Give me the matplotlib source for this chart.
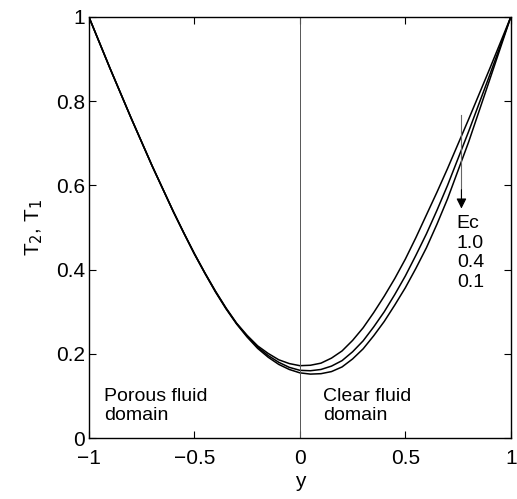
import matplotlib.pyplot as plt

plt.rcParams['font.family'] = ['Liberation Sans', 'DejaVu Sans']

y_left = [-1.0, -0.9, -0.8, -0.7, -0.6, -0.55, -0.5, -0.45, -0.4, -0.35, -0.3,
          -0.25, -0.2, -0.15, -0.1, -0.05, 0.0]
y_right = [0.0, 0.05, 0.1, 0.15, 0.2, 0.25, 0.3, 0.35, 0.4, 0.45, 0.5, 0.55,
           0.6, 0.65, 0.7, 0.8, 0.9, 1.0]

# temperature T2 (porous, y<0) and T1 (clear, y>0) for each Ec
ec_labels = ['1.0', '0.4', '0.1']
T_left = {
    '0.1': [1.000, 0.878, 0.760, 0.646, 0.538, 0.487, 0.438, 0.392, 0.349, 0.309,
            0.273, 0.244, 0.219, 0.201, 0.186, 0.177, 0.172],
    '0.4': [1.000, 0.878, 0.760, 0.646, 0.538, 0.487, 0.438, 0.392, 0.348, 0.308,
            0.272, 0.242, 0.216, 0.196, 0.180, 0.168, 0.161],
    '1.0': [1.000, 0.878, 0.760, 0.646, 0.538, 0.487, 0.437, 0.391, 0.347, 0.307,
            0.271, 0.240, 0.213, 0.192, 0.175, 0.163, 0.155],
}
T_right = {
    '0.1': [0.172, 0.173, 0.178, 0.190, 0.207, 0.232, 0.262, 0.298, 0.337, 0.379,
            0.425, 0.476, 0.530, 0.584, 0.640, 0.757, 0.877, 1.000],
    '0.4': [0.161, 0.160, 0.163, 0.171, 0.184, 0.205, 0.231, 0.264, 0.300, 0.341,
            0.385, 0.434, 0.485, 0.541, 0.600, 0.728, 0.862, 1.000],
    '1.0': [0.155, 0.152, 0.153, 0.158, 0.169, 0.188, 0.212, 0.243, 0.277, 0.316,
            0.357, 0.403, 0.452, 0.508, 0.568, 0.703, 0.851, 1.000],
}

fig = plt.figure(figsize=(5.17, 4.99), dpi=100)
ax = fig.add_axes([0.172, 0.122, 0.816, 0.844])

for ec in ec_labels:
    ax.plot(y_left + y_right[1:], T_left[ec] + T_right[ec][1:], color='black', lw=1.1)

# interface between porous and clear domains
ax.axvline(0, color='#555555', lw=0.7)

# Ec arrow: grey shaft, black head
ax.plot([0.766, 0.766], [0.768, 0.56], color='#666666', lw=0.8)
ax.annotate('', xy=(0.766, 0.545), xytext=(0.766, 0.59),
            arrowprops=dict(arrowstyle='-|>', color='black', lw=0.8,
                            mutation_scale=15, shrinkA=0, shrinkB=0))
ax.text(0.744, 0.53, 'Ec\n' + '\n'.join(ec_labels), fontsize=14,
        va='top', ha='left', linespacing=1.2)

ax.text(-0.93, 0.12, 'Porous fluid\ndomain', fontsize=14, va='top', ha='left', linespacing=1.15)
ax.text(0.108, 0.12, 'Clear fluid\ndomain', fontsize=14, va='top', ha='left', linespacing=1.15)

ax.set_xlim(-1, 1)
ax.set_ylim(0, 1)
ax.set_xticks([-1, -0.5, 0, 0.5, 1])
ax.set_xticklabels(['\u22121', '\u22120.5', '0', '0.5', '1'])
ax.set_yticks([0, 0.2, 0.4, 0.6, 0.8, 1])
ax.set_yticklabels(['0', '0.2', '0.4', '0.6', '0.8', '1'])
ax.tick_params(direction='in', top=True, right=True, length=5, width=0.8,
               labelsize=15)
ax.tick_params(axis='x', pad=8)
ax.tick_params(axis='y', pad=3)
for s in ax.spines.values():
    s.set_linewidth(1.0)

ax.set_xlabel('y', fontsize=15, labelpad=3)
ax.set_ylabel('T$_2$, T$_1$', fontsize=15, labelpad=8)

fig.savefig('out.png', dpi=100)
